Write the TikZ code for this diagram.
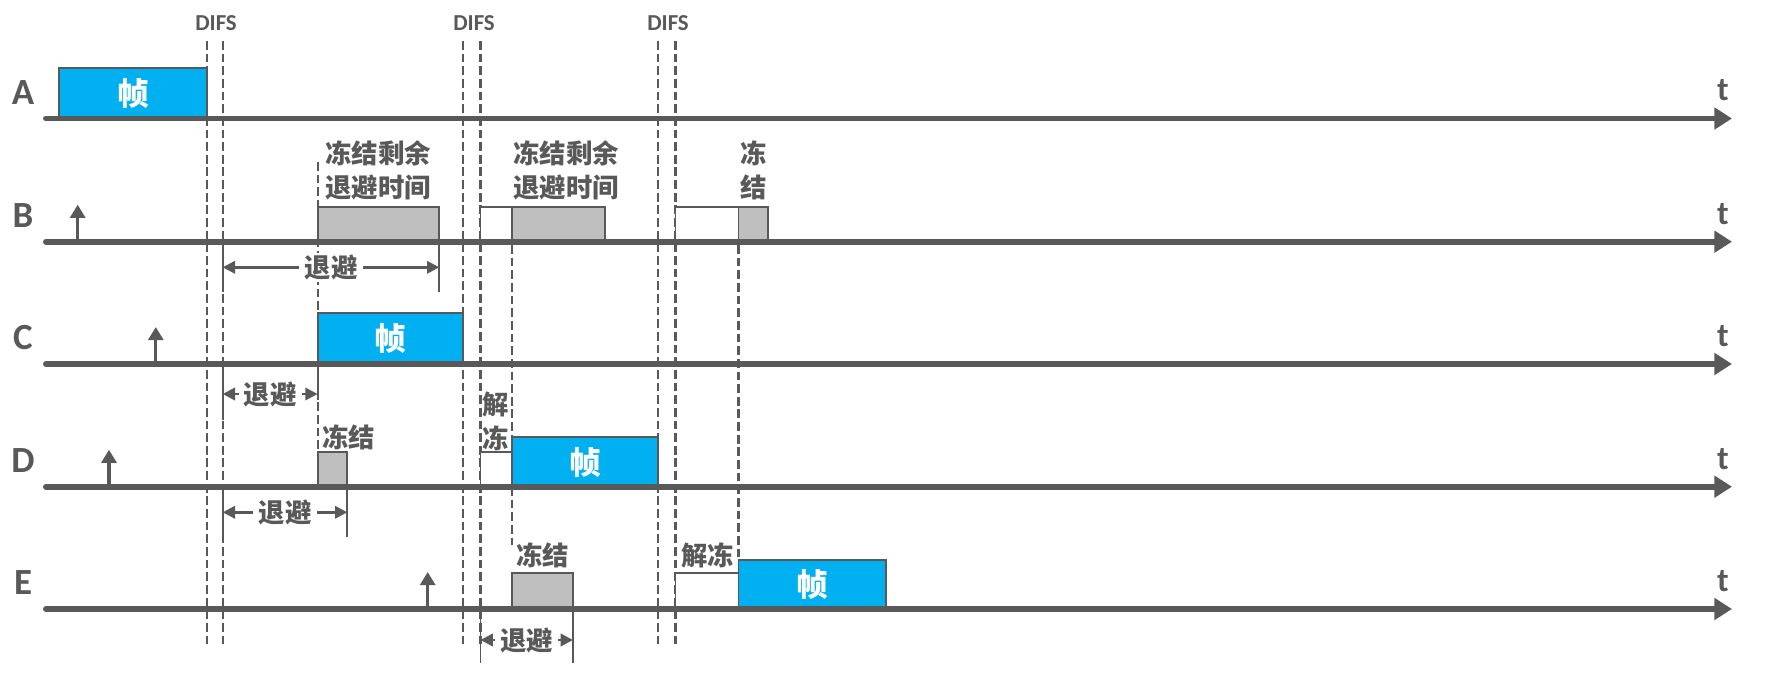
\documentclass[tikz,border=0pt]{standalone}
\usepackage{fontspec}
\setmainfont{Carlito}
\newfontfamily\cjk{Noto Sans CJK SC}
\usetikzlibrary{arrows.meta, calc}
\definecolor{ink}{HTML}{595959}
\definecolor{framefill}{HTML}{00B0F0}
\definecolor{frozenfill}{HTML}{BFBFBF}

\begin{document}
\begin{tikzpicture}[x=0.02cm, y=-0.02cm, >={Triangle[length=7pt, width=7pt]},
  every node/.style={text=ink, inner sep=0pt},
  timeline/.style={draw=ink, line width=3.4pt, line cap=round, -{Triangle[length=10pt, width=12pt]}},
  framebox/.style={draw=ink, line width=1.1pt, fill=framefill},
  holdbox/.style={draw=ink, line width=1.1pt, fill=frozenfill},
  idlebox/.style={draw=ink, line width=1.1pt, fill=white},
  difs/.style={draw=ink, line width=1.2pt, dash pattern=on 5pt off 2.2pt},
  tickline/.style={draw=ink, line width=1.1pt},
  arrival/.style={draw=ink, line width=1.9pt, -{Triangle[length=7.5pt, width=8.5pt]}},
  backoff/.style={draw=ink, line width=1.5pt, <->},
  station/.style={font=\bfseries\fontsize{21pt}{21pt}\selectfont},
  timelbl/.style={font=\bfseries\fontsize{19pt}{19pt}\selectfont},
  difslbl/.style={font=\bfseries\fontsize{13pt}{13pt}\selectfont},
  note/.style={font=\cjk\bfseries\fontsize{15pt}{19.3pt}\selectfont},
  framelbl/.style={text=white, font=\cjk\bfseries\fontsize{18pt}{18pt}\selectfont},
  backlbl/.style={note, fill=white, inner xsep=3pt, inner ysep=1pt}]
  \useasboundingbox (0,0) rectangle (1766,679);

  % DIFS intervals
  \foreach \x in {206.7, 222.7, 463, 480.5, 658.3, 675.5}
    \draw[difs] (\x,41) -- (\x,647);
  \node[difslbl] (difs1) at (216,23) {DIFS};
  \node[difslbl] (difs2) at (474,23) {DIFS};
  \node[difslbl] (difs3) at (668,23) {DIFS};
  \draw[difs] (317.6,162) -- (317.6,452);
  \draw[difs] (511.7,245) -- (511.7,437);
  \draw[difs] (511.7,487) -- (511.7,545);
  \draw[difs] (738.5,245) -- (738.5,560);

  % A
  \draw[framebox] (59,68.3) rectangle (206.7,118.5) node[midway, framelbl] (fA) {帧};
  % B
  \draw[holdbox] (317.6,207.3) rectangle (439.3,241.7);
  \draw[idlebox] (480.5,207.3) rectangle (511.7,241.7);
  \draw[holdbox] (511.7,207.3) rectangle (604.7,241.7);
  \draw[idlebox] (675.5,207.3) rectangle (738.5,241.7);
  \draw[holdbox] (738.5,207.3) rectangle (768,241.7);
  % C
  \draw[framebox] (317.6,313.3) rectangle (463,364) node[midway, framelbl] (fC) {帧};
  % D
  \draw[holdbox] (317.6,451.7) rectangle (347.3,486.7);
  \draw[idlebox] (480.5,451.7) rectangle (511.7,486.7);
  \draw[framebox] (511.7,437.3) rectangle (658.3,486.7) node[midway, framelbl] (fD) {帧};
  % E
  \draw[holdbox] (511.7,572.7) rectangle (573,609);
  \draw[idlebox] (675.5,572.7) rectangle (738.5,609);
  \draw[framebox] (738.5,560) rectangle (885.8,609) node[midway, framelbl] (fE) {帧};

  \foreach \s/\y in {A/118.5, B/241.7, C/364, D/486.7, E/609}{
    \coordinate (\s0) at (46,\y);
    \coordinate (\s1) at (1732,\y);
    \draw[timeline] (\s0) -- (\s1);
    \node[station] (name\s) at (23,\y-26) {\s};
    \node[timelbl] (t\s) at (1723,\y-28) {t};
  }

  % stations get a frame to send
  \foreach \s/\x in {B/77.7, C/155.8, D/109, E/427.7}{
    \coordinate (up\s) at ($(\s0)+(\x-46,0)$);
    \draw[arrival] (up\s) -- ++(0,-37);
  }

  % backoff
  \draw[tickline] (222.7,241.7) -- (222.7,292);
  \draw[tickline] (439.3,241.7) -- (439.3,292);
  \draw[tickline] (222.7,364) -- (222.7,420);
  \draw[tickline] (317.6,364) -- (317.6,400);
  \draw[tickline] (222.7,486.7) -- (222.7,540);
  \draw[tickline] (347.3,486.7) -- (347.3,537);
  \draw[tickline] (480.5,609) -- (480.5,663);
  \draw[tickline] (573,609) -- (573,663);
  \coordinate (bB1) at (222.7,267.3);
  \coordinate (bB2) at (439.3,267.3);
  \coordinate (bC1) at (222.7,394);
  \coordinate (bC2) at (317.6,394);
  \coordinate (bD1) at (222.7,512.3);
  \coordinate (bD2) at (347.3,512.3);
  \coordinate (bE1) at (480.5,640);
  \coordinate (bE2) at (573,640);
  \draw[backoff] (bB1) -- (bB2) node[midway, backlbl] (kB) {退避};
  \draw[backoff] (bC1) -- (bC2) node[midway, backlbl] (kC) {退避};
  \draw[backoff] (bD1) -- (bD2) node[midway, backlbl] (kD) {退避};
  \draw[backoff] (bE1) -- (bE2) node[midway, backlbl] (kE) {退避};

  % notes
  \node[note, anchor=west, align=left] (restB1) at (325,170) {冻结剩余\\退避时间};
  \node[note, anchor=west, align=left] (restB2) at (513,170) {冻结剩余\\退避时间};
  \node[note, align=center] (holdB) at (754,170) {冻\\结};
  \node[note, anchor=west] (holdD) at (322,437) {冻结};
  \node[note, align=center] (freeD) at (496,421) {解\\冻};
  \node[note, anchor=west] (holdE) at (516,555) {冻结};
  \node[note, anchor=west] (freeE) at (681,555) {解冻};
\end{tikzpicture}
\end{document}
